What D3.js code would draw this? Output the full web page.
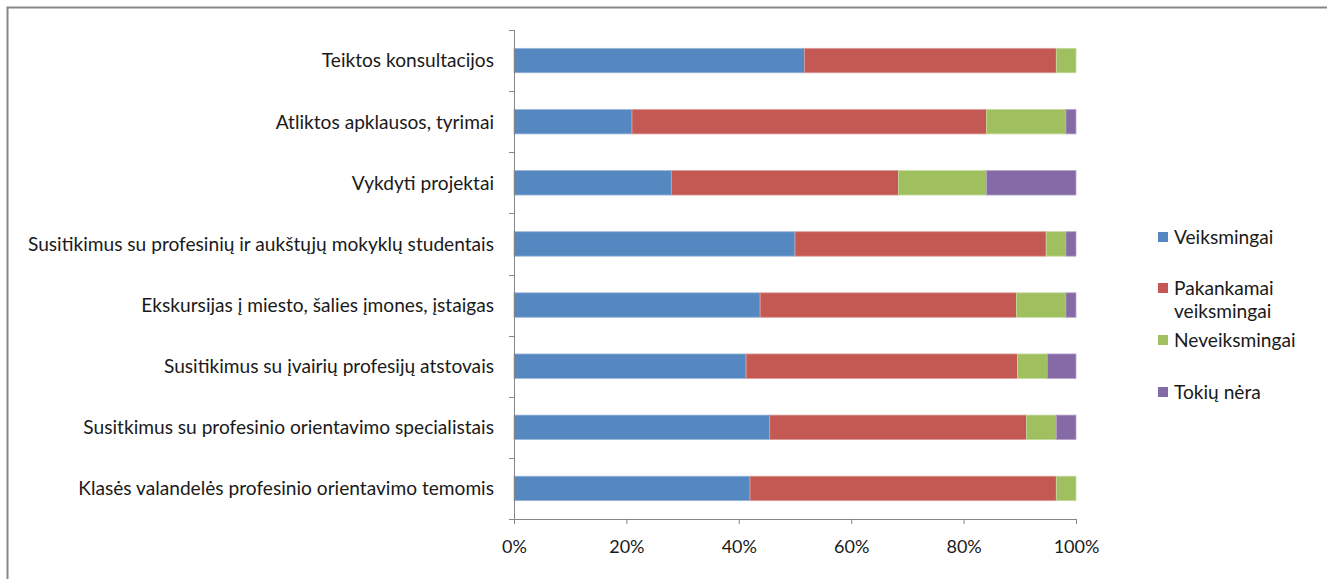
<!DOCTYPE html>
<html><head><meta charset="utf-8">
<script src="https://cdn.jsdelivr.net/npm/d3@7"></script>
<style>body{margin:0;background:#fff}svg{display:block}</style>
</head><body>
<svg id="chart" width="1327" height="579"></svg>
<script>
const categories = [
  "Teiktos konsultacijos",
  "Atliktos apklausos, tyrimai",
  "Vykdyti projektai",
  "Susitikimus su profesinių ir aukštųjų mokyklų studentais",
  "Ekskursijas į miesto, šalies įmones, įstaigas",
  "Susitikimus su įvairių profesijų atstovais",
  "Susitkimus su profesinio orientavimo specialistais",
  "Klasės valandelės profesinio orientavimo temomis"
];
const seriesNames = ["Veiksmingai", "Pakankamai veiksmingai", "Neveiksmingai", "Tokių nėra"];
const veiksmingai = [51.7, 21.0, 28.0, 50.0, 43.8, 41.3, 45.5, 42.0];
const pakankamai  = [44.8, 63.1, 40.4, 44.7, 45.6, 48.3, 45.7, 54.5];
const neveiksmingai = [3.5, 14.1, 15.7, 3.5, 8.8, 5.3, 5.3, 3.5];
const tokiuNera   = [0.0, 1.8, 15.9, 1.8, 1.8, 5.1, 3.5, 0.0];
const tickValues = [0, 20, 40, 60, 80, 100];
const tickLabels = ["0%", "20%", "40%", "60%", "80%", "100%"];

const colors = ["#5588c1", "#c45853", "#a0bf5e", "#866aa6"];
const edgeColors = ["#9db8d9", "#dc9b98", "#c5da9e", "#b4a3c8"];
const FONT = "Lato, 'Open Sans', sans-serif";

const svg = d3.select("#chart");
// outer border
svg.append("path").attr("d", "M7.5,600 V7.5 H1340")
  .attr("fill", "none").attr("stroke", "#878787").attr("stroke-width", 2);

const x0 = 514, x1 = 1076, yTop = 30, yBot = 519;
const x = d3.scaleLinear().domain([0, 100]).range([x0, x1]);
const y = d3.scaleBand().domain(categories).range([yTop, yBot]).paddingInner(0.6).paddingOuter(0.3);

const rows = categories.map((c, i) => ({cat: c, vals: [veiksmingai[i], pakankamai[i], neveiksmingai[i], tokiuNera[i]]}));
const stack = d3.stack().keys([0,1,2,3]).value((d, k) => d.vals[k]);
const stacked = stack(rows);

const g = svg.append("g");
stacked.forEach((layer, k) => {
  g.selectAll(null).data(layer).enter().append("rect")
    .attr("x", d => x(d[0]))
    .attr("y", d => y(d.data.cat))
    .attr("width", d => Math.max(0, x(d[1]) - x(d[0])))
    .attr("height", y.bandwidth())
    .attr("fill", colors[k])
    .attr("stroke", d => (d[1]-d[0]) > 0 ? edgeColors[k] : "none")
    .attr("stroke-width", 0.8);
});

// y axis (category axis) with ticks between categories
const yAxisG = svg.append("g");
yAxisG.append("line").attr("x1", x0 + 0.5).attr("x2", x0 + 0.5).attr("y1", yTop).attr("y2", yBot)
  .attr("stroke", "#868686").attr("stroke-width", 1);
const step = (yBot - yTop) / categories.length;
d3.range(categories.length + 1).forEach(i => {
  const yy = Math.round(yTop + i * step) + 0.5;
  yAxisG.append("line").attr("x1", x0 - 5).attr("x2", x0).attr("y1", yy).attr("y2", yy)
    .attr("stroke", "#868686");
});

// x axis
const xAxis = d3.axisBottom(x).tickValues(tickValues).tickFormat((d, i) => tickLabels[i]).tickSize(5).tickSizeOuter(0);
const xg = svg.append("g").attr("transform", `translate(0,${yBot})`).call(xAxis);
xg.select(".domain").attr("stroke", "#868686");
xg.selectAll(".tick line").attr("stroke", "#868686");
xg.selectAll(".tick text").attr("font-family", FONT).attr("font-size", 18).attr("fill", "#1a1a1a")
  .attr("y", 34).attr("dy", null);

// category labels
const labels = svg.append("g").selectAll("text").data(categories).enter().append("text")
  .attr("x", 494)
  .attr("y", d => y(d) + y.bandwidth() / 2)
  .attr("dy", "0.36em")
  .attr("text-anchor", "end")
  .attr("font-family", FONT)
  .attr("font-size", 16)
  .attr("fill", "#1a1a1a")
  .text(d => d);
// fit font size so longest label spans ~416px
const longest = labels.filter((d, i) => i === 7).node();
const w = longest.getComputedTextLength();
const fs = 16 * 416 / w;
labels.attr("font-size", fs);

// legend
const legend = svg.append("g");
const legendItems = [
  {lines: ["Veiksmingai"], y: 237},
  {lines: ["Pakankamai", "veiksmingai"], y: 288},
  {lines: ["Neveiksmingai"], y: 340},
  {lines: ["Tokių nėra"], y: 392}
];
legendItems.forEach((it, k) => {
  legend.append("rect").attr("x", 1158).attr("y", it.y - 5).attr("width", 10).attr("height", 10)
    .attr("fill", colors[k]);
  const t = legend.append("text").attr("x", 1174).attr("y", it.y).attr("dy", "0.36em")
    .attr("font-family", FONT).attr("font-size", fs).attr("fill", "#1a1a1a");
  it.lines.forEach((ln, j) => {
    t.append("tspan").attr("x", 1174).attr("dy", j === 0 ? "0.36em" : 23).text(ln);
  });
});
</script>
</body></html>
